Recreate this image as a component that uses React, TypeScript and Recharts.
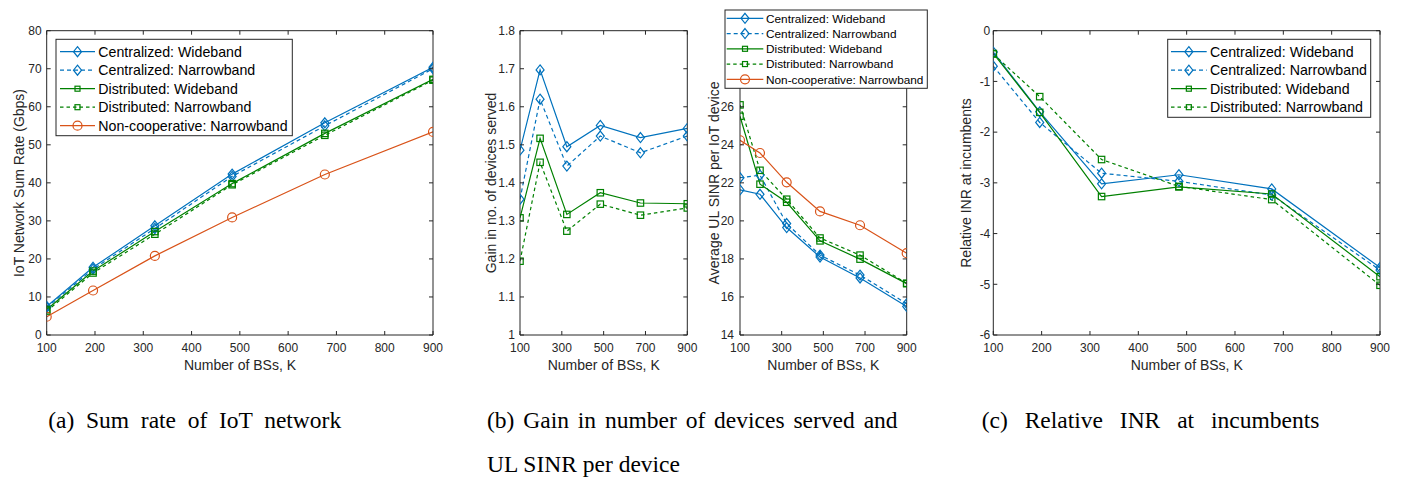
import React from 'react';
import { LineChart, Line, XAxis, YAxis } from 'recharts';

const BLUE = '#0072BD';
const GREEN = '#008000';
const ORANGE = '#D95319';
const AX = '#262626';
const FONT = "'Liberation Sans', Arial, Helvetica, sans-serif";
const SERIF = "'Liberation Serif', 'Times New Roman', serif";

// Number of BSs, K
const K = [100, 196, 324, 484, 676, 900];

// (a) IoT network sum rate (Gbps)
const rateCW = [7.5, 17.8, 28.7, 42.3, 55.8, 70.4];
const rateCN = [7.2, 17.3, 28.0, 41.7, 55.0, 70.0];
const rateDW = [6.7, 16.8, 27.2, 39.8, 53.0, 67.2];
const rateDN = [6.3, 16.3, 26.5, 39.5, 52.5, 67.0];
const rateNC = [4.8, 11.7, 20.8, 30.9, 42.2, 53.4];

// (b) gain in number of devices served
const gainCW = [1.486, 1.697, 1.495, 1.551, 1.519, 1.543];
const gainCN = [1.357, 1.62, 1.444, 1.523, 1.479, 1.523];
const gainDW = [1.308, 1.517, 1.317, 1.374, 1.347, 1.345];
const gainDN = [1.194, 1.454, 1.273, 1.344, 1.315, 1.334];

// (b) average UL SINR per IoT device
const sinrCW = [21.63, 21.4, 19.65, 18.1, 17.0, 15.5];
const sinrCN = [22.27, 22.4, 19.86, 18.2, 17.15, 15.65];
const sinrDW = [25.5, 21.93, 20.98, 18.95, 17.99, 16.7];
const sinrDN = [26.1, 22.66, 21.14, 19.1, 18.2, 16.72];
const sinrNC = [24.24, 23.57, 22.03, 20.5, 19.77, 18.3];

// (c) relative INR at incumbents
const inrCW = [-0.42, -1.6, -3.02, -2.84, -3.12, -4.67];
const inrCN = [-0.7, -1.81, -2.81, -2.97, -3.24, -4.72];
const inrDW = [-0.45, -1.61, -3.27, -3.08, -3.22, -4.85];
const inrDN = [-0.46, -1.3, -2.54, -3.07, -3.33, -5.02];

const xTicksFine = [100, 200, 300, 400, 500, 600, 700, 800, 900];
const xTicksCoarse = [100, 300, 500, 700, 900];
const yTicksRate = [0, 10, 20, 30, 40, 50, 60, 70, 80];
const yTicksGain = [1, 1.1, 1.2, 1.3, 1.4, 1.5, 1.6, 1.7, 1.8];
const yTicksSinr = [14, 16, 18, 20, 22, 24, 26];
const yTicksInr = [-6, -5, -4, -3, -2, -1, 0];

const NAMES = {
  cw: 'Centralized: Wideband',
  cn: 'Centralized: Narrowband',
  dw: 'Distributed: Wideband',
  dn: 'Distributed: Narrowband',
  nc: 'Non-cooperative: Narrowband',
};

type Series = { key: string; name: string; color: string; dash?: string; marker: string };

const S_CW: Series = { key: 'cw', name: NAMES.cw, color: BLUE, marker: 'diamond' };
const S_CN: Series = { key: 'cn', name: NAMES.cn, color: BLUE, dash: '4 3', marker: 'diamond' };
const S_DW: Series = { key: 'dw', name: NAMES.dw, color: GREEN, marker: 'square' };
const S_DN: Series = { key: 'dn', name: NAMES.dn, color: GREEN, dash: '3.5 3', marker: 'square' };
const S_NC: Series = { key: 'nc', name: NAMES.nc, color: ORANGE, marker: 'circle' };

const build = (cols: Record<string, number[]>) =>
  K.map((k, i) => {
    const row: Record<string, number> = { k };
    Object.keys(cols).forEach((c) => (row[c] = cols[c][i]));
    return row;
  });

const dataRate = build({ cw: rateCW, cn: rateCN, dw: rateDW, dn: rateDN, nc: rateNC });
const dataGain = build({ cw: gainCW, cn: gainCN, dw: gainDW, dn: gainDN });
const dataSinr = build({ cw: sinrCW, cn: sinrCN, dw: sinrDW, dn: sinrDN, nc: sinrNC });
const dataInr = build({ cw: inrCW, cn: inrCN, dw: inrDW, dn: inrDN });

function MarkerShape({ kind, cx, cy, color, small }: any) {
  if (kind === 'diamond') {
    const hw = 4, hh = 5;
    return (
      <path
        d={`M${cx},${cy - hh}L${cx + hw},${cy}L${cx},${cy + hh}L${cx - hw},${cy}Z`}
        fill="none" stroke={color} strokeWidth={1.2}
      />
    );
  }
  if (kind === 'square') {
    const h = small ? 2.5 : 3.2;
    return <rect x={cx - h} y={cy - h} width={2 * h} height={2 * h} fill="none" stroke={color} strokeWidth={1.2} />;
  }
  return <circle cx={cx} cy={cy} r={4.5} fill="none" stroke={color} strokeWidth={1.2} />;
}

const makeDot = (kind: string, color: string) => (p: any) => {
  if (p.cx == null || p.cy == null) return <g key={`d${p.index}`} />;
  return <MarkerShape key={`d${p.index}`} kind={kind} cx={p.cx} cy={p.cy} color={color} />;
};

const TL = 4; // tick length (inward)

function BottomTick(props: any) {
  const { x, y, payload, m } = props;
  const ay = y - m;
  return (
    <g>
      <line x1={x} x2={x} y1={ay} y2={ay - TL} stroke={AX} strokeWidth={1} />
      <text x={x} y={y} dy="0.71em" textAnchor="middle" fontSize={12} fill={AX} fontFamily={FONT}>
        {String(payload.value)}
      </text>
    </g>
  );
}

function TopTick(props: any) {
  const { x, y } = props;
  return <line x1={x} x2={x} y1={y} y2={y + TL} stroke={AX} strokeWidth={1} />;
}

function LeftTick(props: any) {
  const { x, y, payload, m, fmt } = props;
  const ax = x + m;
  return (
    <g>
      <line x1={ax} x2={ax + TL} y1={y} y2={y} stroke={AX} strokeWidth={1} />
      <text x={x} y={y} dy="0.36em" textAnchor="end" fontSize={12} fill={AX} fontFamily={FONT}>
        {fmt(payload.value)}
      </text>
    </g>
  );
}

function RightTick(props: any) {
  const { x, y } = props;
  return <line x1={x} x2={x - TL} y1={y} y2={y} stroke={AX} strokeWidth={1} />;
}

const W = 1406;
const H = 400;
const YW = 40;
const XH = 40;
const XM = 8;

function Panel({ data, series, box, xTicks, yDomain, yTicks, yFmt, yMargin }: any) {
  const [x0, y0, x1, y1] = box;
  return (
    <div style={{ position: 'absolute', left: 0, top: 0, width: W, height: H }}>
      <LineChart
        width={W}
        height={H}
        data={data}
        margin={{ top: y0 - 1, left: x0 - YW, right: W - x1 - 1, bottom: H - y1 - XH }}
      >
        <XAxis
          xAxisId="b" orientation="bottom" dataKey="k" type="number" domain={[100, 900]}
          ticks={xTicks} interval={0} allowDataOverflow height={XH} tickSize={0} tickMargin={XM}
          tickLine={false} tick={<BottomTick m={XM} />} axisLine={{ stroke: AX, strokeWidth: 1 }}
        />
        <XAxis
          xAxisId="t" orientation="top" dataKey="k" type="number" domain={[100, 900]}
          ticks={xTicks} interval={0} allowDataOverflow height={1} tickSize={0} tickMargin={0}
          tickLine={false} tick={<TopTick />} axisLine={{ stroke: AX, strokeWidth: 1 }}
        />
        <YAxis
          yAxisId="l" orientation="left" type="number" domain={yDomain} ticks={yTicks} interval={0}
          allowDataOverflow width={YW} tickSize={0} tickMargin={yMargin} tickLine={false}
          tick={<LeftTick m={yMargin} fmt={yFmt} />} axisLine={{ stroke: AX, strokeWidth: 1 }}
        />
        <YAxis
          yAxisId="r" orientation="right" type="number" domain={yDomain} ticks={yTicks} interval={0}
          allowDataOverflow width={1} tickSize={0} tickMargin={0} tickLine={false}
          tick={<RightTick />} axisLine={{ stroke: AX, strokeWidth: 1 }}
        />
        {series.map((s: Series) => (
          <Line
            key={s.key}
            xAxisId="b"
            yAxisId="l"
            type="linear"
            dataKey={s.key}
            name={s.name}
            stroke={s.color}
            strokeWidth={1.2}
            strokeDasharray={s.dash}
            dot={makeDot(s.marker, s.color)}
            activeDot={false}
            isAnimationActive={false}
          />
        ))}
      </LineChart>
    </div>
  );
}

function LegendBox({ x, y, w, h, row0, gap, l0, l1, tx, fs, items }: any) {
  return (
    <g>
      <rect x={x} y={y} width={w} height={h} fill="#fff" stroke={AX} strokeWidth={1} />
      {items.map((s: Series, i: number) => {
        const cy = row0 + i * gap;
        const mx = (l0 + l1) / 2;
        return (
          <g key={s.key}>
            <line x1={l0} x2={l1} y1={cy} y2={cy} stroke={s.color} strokeWidth={1.2} strokeDasharray={s.dash} />
            <MarkerShape kind={s.marker} cx={mx} cy={cy} color={s.color} small />
            <text x={tx} y={cy} dy="0.36em" fontSize={fs} fill="#000" fontFamily={FONT}>
              {s.name}
            </text>
          </g>
        );
      })}
    </g>
  );
}

function XTitle({ cx, text }: any) {
  return (
    <text x={cx} y={370} textAnchor="middle" fontSize={14} fill={AX} fontFamily={FONT}>
      {text}
    </text>
  );
}

function YTitle({ cx, text }: any) {
  return (
    <text
      transform={`translate(${cx},183) rotate(-90)`}
      x={0} y={0} dy="0.36em" textAnchor="middle" fontSize={14} fill={AX} fontFamily={FONT}
    >
      {text}
    </text>
  );
}

const all5 = [S_CW, S_CN, S_DW, S_DN, S_NC];
const all4 = [S_CW, S_CN, S_DW, S_DN];

export default function App() {
  return (
    <div style={{ position: 'absolute', left: 0, top: 0, width: 1406, height: 481, background: '#fff', fontFamily: FONT }}>
      <Panel
        data={dataRate} series={all5} box={[46.7, 30.7, 433, 335]} xTicks={xTicksFine}
        yDomain={[0, 80]} yTicks={yTicksRate} yFmt={(v: number) => String(v)} yMargin={5}
      />
      <Panel
        data={dataGain} series={all4} box={[520, 30.7, 687.3, 335]} xTicks={xTicksCoarse}
        yDomain={[1, 1.8]} yTicks={yTicksGain}
        yFmt={(v: number) => (Math.abs(v - 1) < 1e-9 ? '1' : v.toFixed(1))} yMargin={5}
      />
      <Panel
        data={dataSinr} series={all5} box={[740, 30.7, 906.7, 335]} xTicks={xTicksCoarse}
        yDomain={[14, 30]} yTicks={yTicksSinr} yFmt={(v: number) => String(v)} yMargin={6}
      />
      <Panel
        data={dataInr} series={all4} box={[993.3, 30.7, 1380, 335]} xTicks={xTicksFine}
        yDomain={[-6, 0]} yTicks={yTicksInr} yFmt={(v: number) => String(v)} yMargin={3}
      />
      <svg
        width={1406} height={481}
        style={{ position: 'absolute', left: 0, top: 0, pointerEvents: 'none' }}
      >
        <XTitle cx={240} text="Number of BSs, K" />
        <XTitle cx={603.7} text="Number of BSs, K" />
        <XTitle cx={823.3} text="Number of BSs, K" />
        <XTitle cx={1186.7} text="Number of BSs, K" />
        <YTitle cx={18.5} text="IoT Network Sum Rate (Gbps)" />
        <YTitle cx={490.5} text="Gain in no. of devices served" />
        <YTitle cx={713.5} text="Average UL SINR per IoT device" />
        <YTitle cx={965.5} text="Relative INR at incumbents" />

        <LegendBox x={56} y={39.3} w={236.3} h={96.4} row0={51.7} gap={18.5} l0={60} l1={95} tx={98.3} fs={14.2} items={all5} />
        <LegendBox x={725} y={10} w={202.3} h={78.3} row0={18.3} gap={15.25} l0={726.7} l1={763.3} tx={766} fs={11.8} items={all5} />
        <LegendBox x={1167.7} y={39.3} w={203} h={78} row0={51.7} gap={18.5} l0={1171} l1={1206.7} tx={1210} fs={14.2} items={all4} />

        <text x={48.3} y={428} fontSize={23.5} fontFamily={SERIF} fill="#000" style={{ wordSpacing: '5.8px' }}>
          (a) Sum rate of IoT network
        </text>
        <text x={487} y={428} fontSize={23.5} fontFamily={SERIF} fill="#000" style={{ wordSpacing: '3px' }}>
          (b) Gain in number of devices served and
        </text>
        <text x={487} y={472} fontSize={23.5} fontFamily={SERIF} fill="#000">
          UL SINR per device
        </text>
        <text x={981.7} y={428} fontSize={23.5} fontFamily={SERIF} fill="#000" style={{ wordSpacing: '11px' }}>
          (c) Relative INR at incumbents
        </text>
      </svg>
    </div>
  );
}
